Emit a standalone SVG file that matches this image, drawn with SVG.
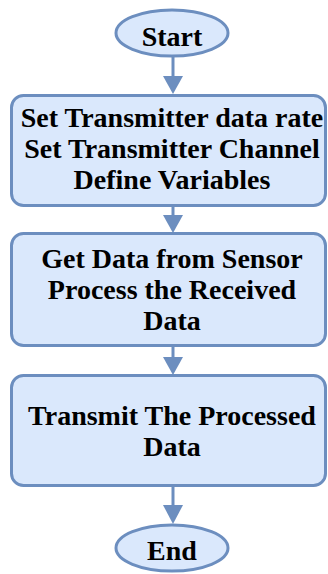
<svg xmlns="http://www.w3.org/2000/svg" width="328" height="574" viewBox="0 0 328 574">
<defs>
<style>
.shape{fill:#dae8fc;stroke:#6c8ebf;stroke-width:3}
.t{font-family:'Liberation Serif','Times New Roman','DejaVu Serif',serif;font-weight:700;font-size:28px;fill:#000;text-anchor:middle}
.line{stroke:#6c8ebf;stroke-width:3;fill:none}
.head{fill:#6c8ebf}
</style>
</defs>
<rect width="328" height="574" fill="#ffffff"/>
<g id="connectors">
<line class="line" x1="173" y1="56" x2="173" y2="78"/>
<polygon class="head" points="163,76 183,76 173,94"/>
<line class="line" x1="173" y1="206" x2="173" y2="217"/>
<polygon class="head" points="163,215 183,215 173,233"/>
<line class="line" x1="173" y1="346" x2="173" y2="359"/>
<polygon class="head" points="163,357 183,357 173,375"/>
<line class="line" x1="173" y1="486" x2="173" y2="507"/>
<polygon class="head" points="163,505 183,505 173,524"/>
</g>
<g id="start">
<ellipse class="shape" cx="172" cy="33" rx="56" ry="23"/>
<text class="t" x="172" y="46">Start</text>
</g>
<g id="init">
<rect class="shape" x="11.5" y="95.5" width="314" height="110" rx="12"/>
<text class="t" x="172" y="127">Set Transmitter data rate</text>
<text class="t" x="172" y="158">Set Transmitter Channel</text>
<text class="t" x="172" y="189">Define Variables</text>
</g>
<g id="process">
<rect class="shape" x="11.5" y="233.5" width="314" height="112" rx="12"/>
<text class="t" x="172" y="268">Get Data from Sensor</text>
<text class="t" x="172" y="299">Process the Received</text>
<text class="t" x="172" y="330">Data</text>
</g>
<g id="transmit">
<rect class="shape" x="11.5" y="375.5" width="314" height="110" rx="12"/>
<text class="t" x="172" y="425">Transmit The Processed</text>
<text class="t" x="172" y="456">Data</text>
</g>
<g id="end">
<ellipse class="shape" cx="172" cy="548" rx="56" ry="23"/>
<text class="t" x="172" y="560">End</text>
</g>
</svg>
